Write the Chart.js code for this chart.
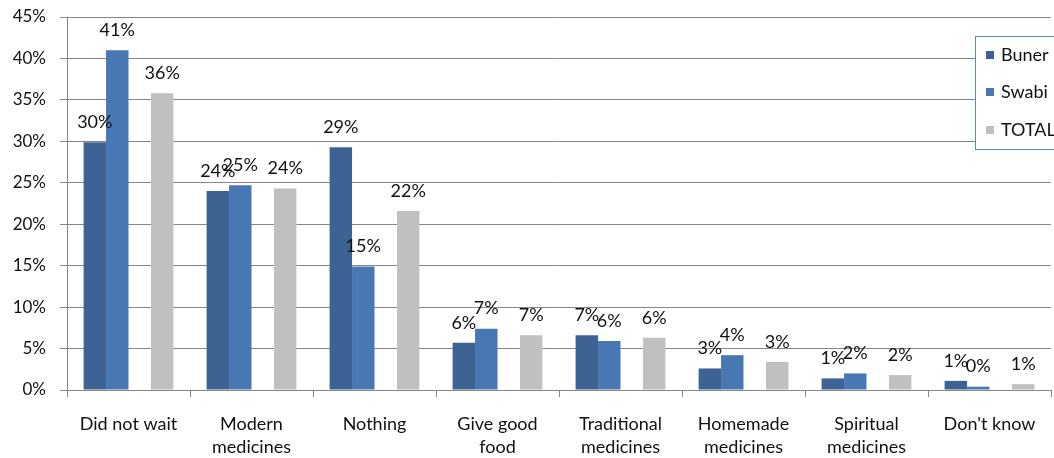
<!DOCTYPE html>
<html><head><meta charset="utf-8">
<script src="https://cdn.jsdelivr.net/npm/chart.js@4"></script>
<style>html,body{margin:0;padding:0;background:#fff}#wrap{width:1054px;height:458px}</style>
</head><body><div id="wrap"><canvas id="c" width="1054" height="458"></canvas></div>
<script>
const categories = [["Did not wait"],["Modern","medicines"],["Nothing"],["Give good","food"],["Traditional","medicines"],["Homemade","medicines"],["Spiritual","medicines"],["Don't know"]];
const buner = [29.9, 24.0, 29.3, 5.7, 6.6, 2.6, 1.4, 1.1];
const swabi = [41.0, 24.7, 14.9, 7.4, 5.9, 4.2, 2.0, 0.4];
const total = [35.8, 24.3, 21.6, 6.6, 6.3, 3.4, 1.8, 0.7];
const yTicks = [0,5,10,15,20,25,30,35,40,45];
const FONT = "Lato";

const labelPlugin = {
  id:'labels',
  afterDatasetsDraw(chart){
    const ctx = chart.ctx;
    ctx.save();
    ctx.font = "18px " + FONT;
    ctx.fillStyle = "#111";
    ctx.textAlign = "center";
    ctx.textBaseline = "middle";
    chart.data.datasets.forEach((ds,i)=>{
      if(ds.hidden_) return;
      const meta = chart.getDatasetMeta(i);
      meta.data.forEach((bar,j)=>{
        const v = ds.data[j];
        if(v==null) return;
        ctx.fillText(Math.round(v)+"%", bar.x, bar.y-20);
      });
    });
    ctx.restore();
  }
};
const legendPlugin = {
  id:'customLegend',
  afterDraw(chart){
    const ctx = chart.ctx;
    ctx.save();
    const x=975, y=36, w=130, h=113;
    ctx.fillStyle="#fff";
    ctx.fillRect(x,y,w,h);
    ctx.strokeStyle="#5b86c5";
    ctx.lineWidth=1;
    ctx.strokeRect(x+0.5,y+0.5,w,h);
    const items=[["Buner","#3c6394",55],["Swabi","#4877b3",92],["TOTAL","#c0c0c0",130]];
    ctx.font="18px "+FONT;
    ctx.textBaseline="middle";
    items.forEach(it=>{
      ctx.fillStyle=it[1];
      ctx.fillRect(986,it[2]-4,8,8);
      ctx.fillStyle="#111";
      ctx.fillText(it[0],1001,it[2]);
    });
    ctx.restore();
  }
};

new Chart(document.getElementById('c'),{
  type:'bar',
  data:{
    labels:categories,
    datasets:[
      {label:"Buner",data:buner,backgroundColor:"#3c6394"},
      {label:"Swabi",data:swabi,backgroundColor:"#4877b3"},
      {label:"",data:buner.map(()=>null),backgroundColor:"rgba(0,0,0,0)",hidden_:true},
      {label:"TOTAL",data:total,backgroundColor:"#c0c0c0"}
    ]
  },
  options:{
    responsive:false,
    animation:false,
    layout:{padding:{top:17,right:3,left:0,bottom:0}},
    datasets:{bar:{categoryPercentage:0.73,barPercentage:1.0}},
    plugins:{legend:{display:false},tooltip:{enabled:false}},
    scales:{
      x:{
        grid:{offset:true,drawOnChartArea:false,drawTicks:true,tickLength:7,color:"#868686"},
        border:{color:"#868686"},
        ticks:{color:"#111",font:{family:FONT,size:18,lineHeight:1.28},padding:16,maxRotation:0,autoSkip:false},
        afterFit(s){s.height=68;}
      },
      y:{
        min:0,max:45,
        afterBuildTicks(s){s.ticks=yTicks.map(v=>({value:v}));},
        grid:{color:"#868686",tickLength:7},
        border:{color:"#868686"},
        ticks:{color:"#111",font:{family:FONT,size:17},padding:14,callback:v=>v+"%"},
        afterFit(s){s.width=67;s.paddingTop=0;s.paddingBottom=0;}
      }
    }
  },
  plugins:[labelPlugin,legendPlugin]
});
</script></body></html>
